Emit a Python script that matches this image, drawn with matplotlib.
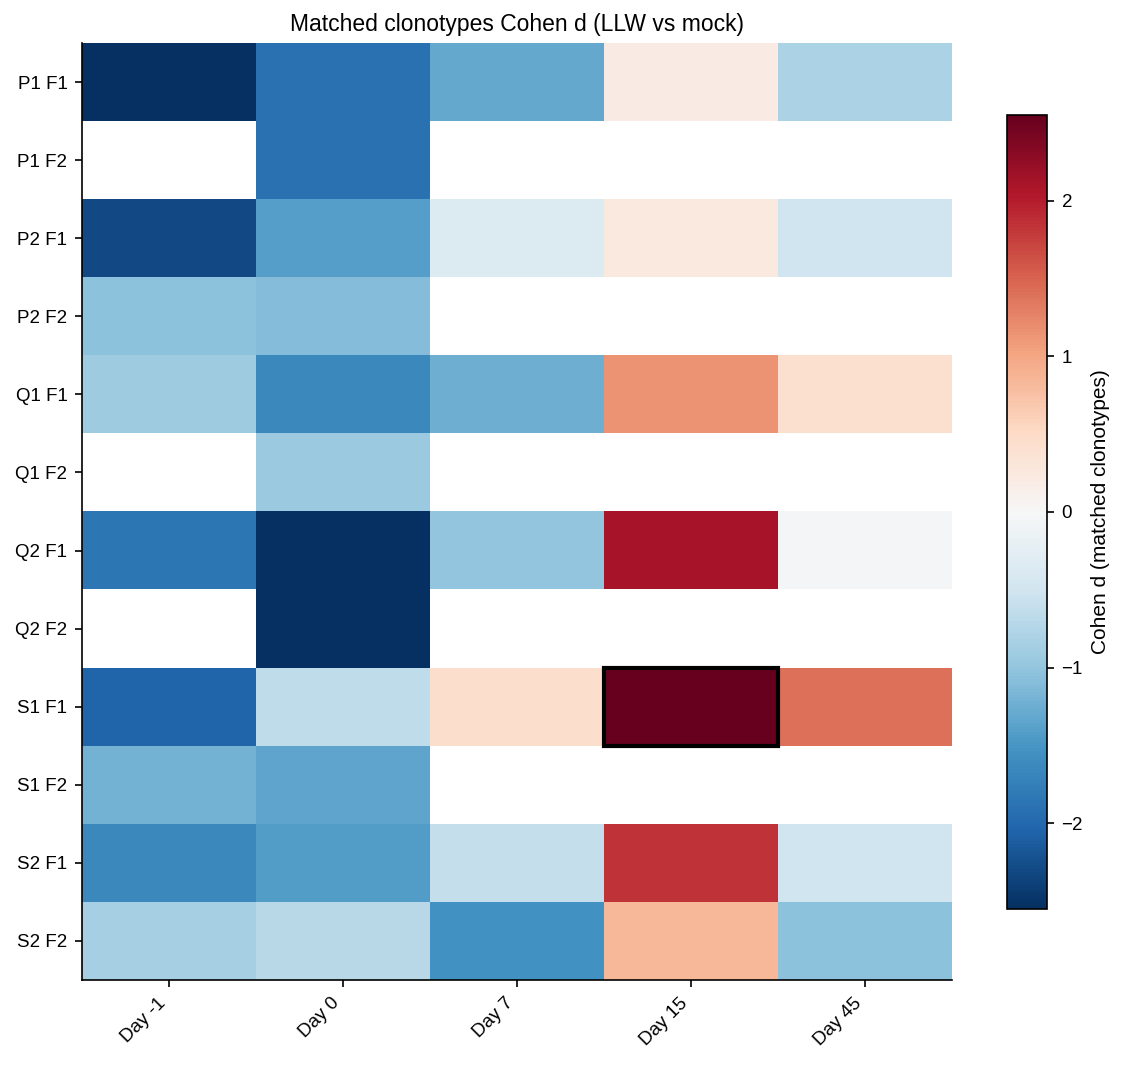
import numpy as np
import matplotlib
matplotlib.use("Agg")
import matplotlib.pyplot as plt
from matplotlib.patches import Rectangle

plt.rcParams['font.family'] = ['Liberation Sans', 'DejaVu Sans']

days = ["Day -1", "Day 0", "Day 7", "Day 15", "Day 45"]
rows = ["P1 F1", "P1 F2", "P2 F1", "P2 F2", "Q1 F1", "Q1 F2",
        "Q2 F1", "Q2 F2", "S1 F1", "S1 F2", "S2 F1", "S2 F2"]
nan = np.nan
p1_f1 = [-2.6, -1.9, -1.3, 0.2, -0.8]
p1_f2 = [nan, -1.9, nan, nan, nan]
p2_f1 = [-2.3, -1.4, -0.35, 0.25, -0.5]
p2_f2 = [-1.05, -1.1, nan, nan, nan]
q1_f1 = [-0.9, -1.65, -1.25, 1.15, 0.4]
q1_f2 = [nan, -0.95, nan, nan, nan]
q2_f1 = [-1.85, -2.6, -1.0, 2.1, -0.05]
q2_f2 = [nan, -2.6, nan, nan, nan]
s1_f1 = [-2.05, -0.65, 0.45, 2.55, 1.4]
s1_f2 = [-1.2, -1.35, nan, nan, nan]
s2_f1 = [-1.65, -1.42, -0.6, 1.85, -0.5]
s2_f2 = [-0.85, -0.7, -1.55, 0.85, -1.05]
vlim = 2.55
highlight = ("S1 F1", "Day 15")

data = np.array([p1_f1, p1_f2, p2_f1, p2_f2, q1_f1, q1_f2,
                 q2_f1, q2_f2, s1_f1, s1_f2, s2_f1, s2_f2], dtype=float)

fig = plt.figure(figsize=(7.5, 7.1), dpi=150)
ax = fig.add_axes([0.0729, 0.0798, 0.7733, 0.8798])
cax = fig.add_axes([0.895, 0.1465, 0.0356, 0.7455])

im = ax.imshow(np.ma.masked_invalid(data), cmap="RdBu_r", vmin=-vlim, vmax=vlim,
               aspect="auto", interpolation="nearest")
ax.set_xticks(range(len(days)))
ax.set_xticklabels(days, rotation=45, ha="right", fontsize=9)
ax.set_yticks(range(len(rows)))
ax.set_yticklabels(rows, fontsize=9)
ax.spines["top"].set_visible(False)
ax.spines["right"].set_visible(False)
ax.set_title("Matched clonotypes Cohen d (LLW vs mock)", fontsize=11)

r = rows.index(highlight[0]); c = days.index(highlight[1])
ax.add_patch(Rectangle((c - 0.5, r - 0.5), 1, 1, fill=False, edgecolor="black", lw=2))

cb = fig.colorbar(im, cax=cax)
cb.set_label("Cohen d (matched clonotypes)", fontsize=10)
cb.ax.tick_params(labelsize=9)

fig.savefig("out.png", dpi=150)
